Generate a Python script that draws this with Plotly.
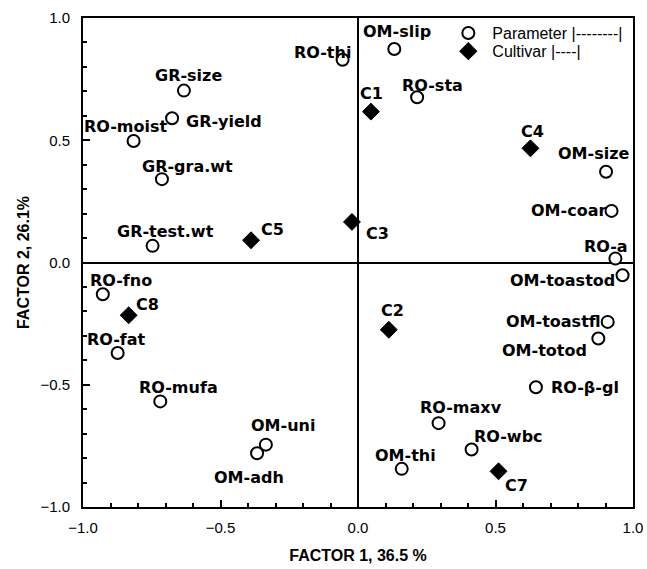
import plotly.graph_objects as go

# ---- data ----
param_names = ["RO-thi", "OM-slip", "RO-sta", "GR-size", "GR-yield", "RO-moist",
               "GR-gra.wt", "GR-test.wt", "RO-fno", "RO-fat", "RO-mufa", "OM-uni",
               "OM-adh", "OM-thi", "RO-maxv", "RO-wbc", "RO-β-gl", "OM-totod",
               "OM-toastfl", "OM-toastod", "RO-a", "OM-coar", "OM-size"]
param_f1 = [-0.056, 0.132, 0.215, -0.633, -0.676, -0.816,
            -0.713, -0.747, -0.928, -0.874, -0.719, -0.335,
            -0.367, 0.159, 0.293, 0.413, 0.647, 0.874,
            0.908, 0.962, 0.936, 0.922, 0.902]
param_f2 = [0.829, 0.873, 0.676, 0.703, 0.590, 0.497,
            0.341, 0.068, -0.130, -0.370, -0.568, -0.745,
            -0.780, -0.844, -0.657, -0.765, -0.510, -0.311,
            -0.243, -0.052, 0.016, 0.211, 0.371]

cultivar_names = ["C1", "C2", "C3", "C4", "C5", "C7", "C8"]
cultivar_f1 = [0.047, 0.112, -0.022, 0.627, -0.389, 0.511, -0.834]
cultivar_f2 = [0.617, -0.275, 0.166, 0.467, 0.091, -0.854, -0.216]

x_tick_vals = [-1.0, -0.5, 0.0, 0.5, 1.0]
y_tick_vals = [-1.0, -0.5, 0.0, 0.5, 1.0]
x_title = "FACTOR 1, 36.5 %"
y_title = "FACTOR 2, 26.1%"
legend_param = "Parameter |--------|"
legend_cult = "Cultivar |----|"

# ---- label placement styles: (xanchor, dx px, dy px downward) ----
label_style = {
    "RO-thi": ("right", 10, -7), "OM-slip": ("center", 3, -18), "RO-sta": ("center", 15, -12),
    "GR-size": ("center", 5, -15), "GR-yield": ("left", 12, 3), "RO-moist": ("center", -8, -14),
    "GR-gra.wt": ("center", 26, -13), "GR-test.wt": ("center", 13, -14), "RO-fno": ("center", 18, -14),
    "RO-fat": ("center", -1, -13), "RO-mufa": ("center", 18, -14), "OM-uni": ("center", 17, -19),
    "OM-adh": ("center", -8, 24), "OM-thi": ("center", 4, -13), "RO-maxv": ("center", 22, -16),
    "RO-wbc": ("left", 0, -13), "RO-β-gl": ("left", 13, 0), "OM-totod": ("right", -9, 12),
    "OM-toastfl": ("right", -5, 0), "OM-toastod": ("right", -6, 5), "RO-a": ("right", 15, -12),
    "OM-coar": ("right", -4, 0), "OM-size": ("center", -13, -18),
    "C1": ("center", 1, -18), "C2": ("center", 4, -19), "C3": ("left", 12, 12),
    "C4": ("center", 2, -17), "C5": ("left", 8, -11), "C7": ("left", 4, 14), "C8": ("left", 5, -11),
}

label_font = dict(family="DejaVu Sans", size=16, color="black", weight="bold")
plain_font = dict(family="Liberation Sans, Arial", size=16, color="black")

fig = go.Figure()
fig.add_trace(go.Scatter(
    x=param_f1, y=param_f2, mode="markers", name=legend_param, legend="legend",
    marker=dict(symbol="circle", size=12, color="white", line=dict(color="black", width=2)),
))
fig.add_trace(go.Scatter(
    x=cultivar_f1, y=cultivar_f2, mode="markers", name=legend_cult, legend="legend2",
    marker=dict(symbol="diamond", size=13, color="black", line=dict(color="black", width=1)),
))

annotations = []
for names, xs, ys in ((param_names, param_f1, param_f2), (cultivar_names, cultivar_f1, cultivar_f2)):
    for n, xv, yv in zip(names, xs, ys):
        anc, dx, dy = label_style[n]
        annotations.append(dict(x=xv, y=yv, text=n, showarrow=False, xanchor=anc, yanchor="middle",
                                xshift=dx, yshift=-dy, font=label_font))

axis_common = dict(
    range=[-1.0, 1.0], showgrid=False, zeroline=True, zerolinecolor="black", zerolinewidth=1.5,
    showline=True, linecolor="black", linewidth=2, mirror=True, automargin=False,
    ticks="inside", ticklen=7, tickwidth=1.5, tickcolor="black",
    tickformat=".1f",
    minor=dict(dtick=0.1, ticks="inside", ticklen=4, tickwidth=1.5, tickcolor="black", showgrid=False),
    tickfont=dict(family="Liberation Sans, Arial", size=15, color="black"),
)

legend_common = dict(xanchor="left", yanchor="middle", bgcolor="rgba(0,0,0,0)",
                     font=plain_font, itemsizing="constant", borderwidth=0, itemwidth=38)

fig.update_layout(
    width=647, height=569,
    margin=dict(l=83, r=14, t=18, b=62),
    plot_bgcolor="white", paper_bgcolor="white",
    annotations=annotations,
    showlegend=True,
    legend=dict(**legend_common, x=0.657, y=0.969),
    legend2=dict(**legend_common, x=0.657, y=0.932),
    xaxis=dict(**axis_common, tickvals=x_tick_vals, ticklabelstandoff=6,
               title=dict(text=x_title, standoff=15,
                          font=dict(family="Liberation Sans, Arial", size=16, color="black", weight="bold"))),
    yaxis=dict(**axis_common, tickvals=y_tick_vals, ticklabelstandoff=8,
               title=dict(text=y_title, standoff=7,
                          font=dict(family="Liberation Sans, Arial", size=16, color="black", weight="bold"))),
)

fig.write_html("out.html", config={"displayModeBar": False},
               post_script="document.body.style.margin='0';")
